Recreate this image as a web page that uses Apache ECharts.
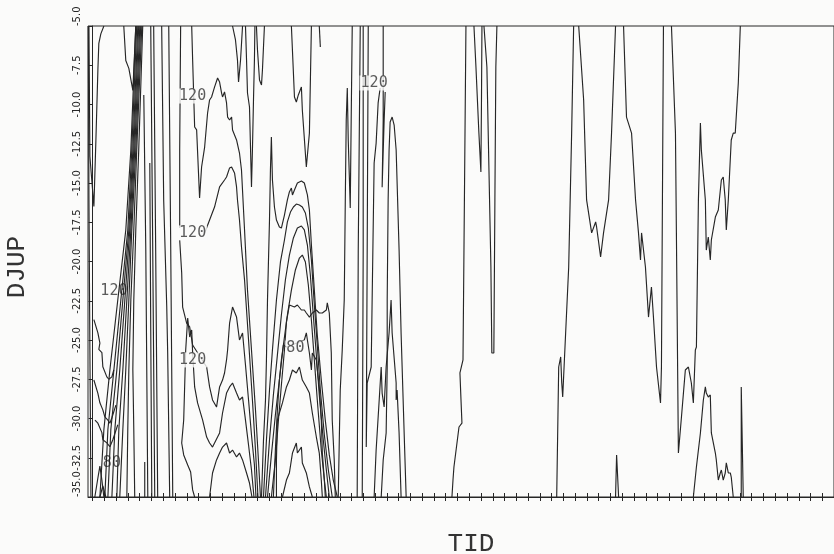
<!DOCTYPE html>
<html><head><meta charset="utf-8">
<script src="https://cdn.jsdelivr.net/npm/echarts@6/dist/echarts.min.js"></script>
<style>html,body{margin:0;padding:0;background:#fbfbfa}#c{width:834px;height:554px}</style>
</head><body><div id="c"></div>
<script>
// ---- axis ranges (x in tick units of TID, y = DJUP) ----
const xMin = -0.39, xMax = 62.99;
const yMin = -35, yMax = -5, yStep = 2.5;
const xTicks = []; for (let k = 0; k <= 62; k++) xTicks.push(k);

// ---- contour polylines [TID, DJUP] ----
const A1 = [[-0.36,-5],[-0.31,-16.1],[-0.23,-25.6],[-0.14,-35]];
const A2 = [[-0.31,-5],[-0.23,-13.3],[0.11,-16.5],[0.28,-12.3],[0.45,-7.8],[0.53,-6.1],[0.7,-5.5],[0.96,-5]];
const A3 = [[2.65,-5],[2.82,-7.2],[3.08,-7.7],[3.42,-9.1],[3.58,-6.5],[3.67,-5]];
const F1 = [[3.67,-5],[3.25,-12.9],[2.82,-18],[2.14,-22.45],[1.47,-26.9],[0.96,-30.7],[0.62,-35]];
const F2 = [[3.75,-5],[3.33,-12.9],[2.99,-18],[2.40,-22.45],[1.81,-26.9],[1.30,-30.7],[1.04,-35]];
const F3 = [[3.84,-5],[3.42,-12.9],[3.08,-18],[2.57,-22.45],[2.06,-26.9],[1.55,-30.7],[1.30,-35]];
const F4 = [[3.92,-5],[3.50,-12.9],[3.16,-18],[2.74,-22.45],[2.31,-26.9],[1.89,-30.7],[1.64,-35]];
const F5 = [[4.01,-5],[3.58,-12.9],[3.25,-18],[2.91,-22.45],[2.57,-26.9],[2.23,-30.7],[2.06,-35]];
const F6 = [[4.09,-5],[3.67,-12.9],[3.33,-18],[3.08,-22.45],[2.82,-26.9],[2.57,-30.7],[2.31,-35]];
const F7 = [[4.18,-5],[3.75,-12.9],[3.50,-18],[3.25,-22.45],[3.08,-26.9],[2.99,-30.7],[2.91,-35]];
const F8 = [[4.26,-5],[3.92,-12.9],[3.67,-18],[3.50,-22.45],[3.42,-26.9],[3.50,-30.7],[3.58,-35]];
const U1 = [[0.11,-23.7],[0.45,-24.55],[0.62,-25.2],[0.53,-25.6],[0.79,-25.8],[0.87,-26.7],[1.21,-27.35],[1.38,-27.5],[1.64,-27.35],[1.8,-26.9]];
const U2 = [[0.11,-27.55],[0.45,-28.4],[0.62,-29.0],[0.87,-29.45],[1.04,-29.9],[1.3,-30.1],[1.47,-30.3],[1.64,-29.95],[1.98,-29.15]];
const U3 = [[0.2,-30.1],[0.45,-30.3],[0.79,-30.9],[0.87,-31.35],[1.21,-31.55],[1.47,-31.8],[1.72,-31.35],[2.14,-30.4]];
const BV1 = [[0.19,-35],[0.45,-33.79],[0.62,-33.03],[0.79,-33.92],[0.96,-35]];
const BV2 = [[0.62,-35],[0.87,-34.3],[1.13,-35]];
const Va = [[4.35,-9.39],[4.52,-19.27],[4.69,-35]];
const Vb = [[4.43,-32.77],[4.43,-35]];
const Vc = [[4.86,-13.73],[4.94,-24.36],[5.03,-35]];
const V1 = [[4.94,-5],[5.11,-19.27],[5.28,-35]];
const V2 = [[5.19,-5],[5.36,-19.27],[5.53,-35]];
const V4 = [[5.87,-5],[6.04,-16.08],[6.3,-22.9],[6.38,-25.83],[6.55,-35]];
const V5 = [[6.47,-5],[6.64,-19.27],[6.81,-35]];
const V6 = [[7.48,-5],[7.4,-12.9],[7.4,-17.87]];
const C120a = [[8.42,-5],[8.5,-7.17],[8.67,-11.43],[8.84,-11.62],[9.09,-15.96],[9.26,-13.98],[9.52,-12.71],[9.77,-10.54],[9.94,-9.71],[10.11,-9.52],[10.36,-8.89],[10.62,-8.31],[10.79,-8.57],[10.96,-9.27],[11.04,-9.52],[11.21,-9.2],[11.38,-9.9],[11.47,-10.8],[11.64,-10.99],[11.81,-10.8],[11.89,-11.62],[12.23,-12.26],[12.48,-13.09],[12.65,-14.17],[12.91,-17.99],[13.16,-21.82],[13.5,-25.64],[13.84,-29.46],[14.09,-32.64],[14.26,-35]];
const C120b = [[9.52,-18.18],[9.94,-17.36],[10.36,-16.53],[10.79,-15.25],[11.21,-14.81],[11.38,-14.62],[11.64,-14.04],[11.81,-13.98],[12.06,-14.36],[12.23,-15.25],[12.31,-16.08],[12.48,-17.36],[12.65,-19.08],[12.91,-21.18],[13.25,-25],[13.58,-28.82],[13.84,-32.01],[14.05,-35]];
const C120c = [[7.4,-18.63],[7.57,-20.73],[7.65,-22.9],[7.99,-23.92],[8.25,-24.17],[8.5,-25.32],[9.69,-26.72],[9.94,-27.99],[10.19,-28.82],[10.53,-29.27],[10.79,-27.99],[11.04,-27.55],[11.21,-27.1],[11.38,-26.27],[11.47,-25.64],[11.64,-23.92],[11.89,-22.9],[12.23,-23.54],[12.48,-25],[12.74,-24.55],[12.99,-26.59],[13.25,-28.82],[13.5,-31.05],[13.75,-32.96],[13.88,-35]];
const C4 = [[8.67,-35],[8.5,-34.55],[8.33,-33.41],[8.08,-32.96],[7.74,-32.32],[7.57,-31.56],[7.74,-30.1],[7.91,-25.64],[8.08,-23.6],[8.25,-24.81],[8.42,-24.36],[8.5,-25.83],[8.67,-27.99],[8.92,-29.01],[9.35,-30.1],[9.69,-31.18],[9.94,-31.56],[10.19,-31.82],[10.79,-30.92],[11.04,-29.65],[11.38,-28.38],[11.64,-27.99],[11.89,-27.74],[12.23,-28.38],[12.48,-28.82],[12.74,-28.63],[12.99,-30.1],[13.25,-31.69],[13.5,-33.28],[13.71,-35]];
const C5 = [[9.94,-35],[10.19,-33.47],[10.53,-32.64],[10.79,-32.2],[11.04,-31.82],[11.38,-31.56],[11.64,-32.2],[11.89,-32.01],[12.23,-32.45],[12.48,-32.2],[12.74,-32.64],[13.08,-33.47],[13.33,-34.11],[13.54,-35]];
const Ha = [[11.89,-5],[12.14,-5.89],[12.31,-7.17],[12.4,-8.57],[12.57,-7.17],[12.74,-5]];
const Hb = [[12.99,-5],[13.08,-7.17],[13.16,-9.27],[13.33,-10.16],[13.5,-15.25],[13.58,-12.9],[13.67,-9.71],[13.75,-7.17],[13.79,-5]];
const Hc = [[13.92,-5],[14.01,-6.53],[14.18,-8.44],[14.35,-8.76],[14.43,-7.8],[14.6,-5]];
const Hd = [[16.89,-5],[17.15,-9.52],[17.31,-9.84],[17.48,-9.39],[17.74,-8.89],[17.82,-10.35],[18.16,-13.98],[18.25,-14.04],[18.42,-11.82],[18.59,-5]];
const Sp1 = [[19.26,-5],[19.35,-6.34]];
const H1 = [[14.35,-35],[14.52,-31.37],[14.69,-28.82],[14.77,-26.27],[14.86,-22.45],[15.03,-17.36],[15.11,-14.17],[15.19,-12.07],[15.28,-14.81],[15.45,-16.53],[15.62,-17.36],[15.87,-17.8],[16.04,-17.87],[16.3,-17.04],[16.55,-16.08],[16.72,-15.57],[16.89,-15.32],[16.98,-15.76],[17.15,-15.45],[17.4,-15.0],[17.74,-14.87],[17.99,-15.0],[18.25,-15.76],[18.42,-16.72],[18.59,-18.95],[18.84,-21.82],[19.09,-24.68],[19.43,-27.55],[19.77,-30.1],[20.11,-32.32],[20.45,-33.92],[20.79,-35]];
const H2 = [[14.52,-35],[14.77,-31.37],[15.03,-28.18],[15.28,-25.64],[15.62,-22.45],[15.96,-20.03],[16.3,-18.63],[16.55,-17.48],[16.81,-16.85],[17.06,-16.53],[17.31,-16.34],[17.57,-16.4],[17.82,-16.53],[18.08,-16.91],[18.33,-17.87],[18.59,-19.9],[18.84,-22.77],[19.09,-25.32],[19.35,-28.18],[19.69,-31.05],[20.03,-33.28],[20.36,-35]];
const H3 = [[14.69,-35],[15.03,-31.37],[15.36,-28.5],[15.7,-25.96],[16.04,-23.41],[16.38,-21.18],[16.72,-19.59],[17.06,-18.5],[17.4,-17.87],[17.74,-17.74],[17.99,-17.99],[18.25,-18.95],[18.5,-20.86],[18.75,-23.41],[19.01,-25.96],[19.26,-28.5],[19.6,-31.37],[19.86,-33.28],[20.11,-35]];
const H4 = [[14.86,-35],[15.19,-32.32],[15.53,-29.78],[15.87,-27.55],[16.21,-25.32],[16.55,-23.41],[16.89,-21.82],[17.23,-20.54],[17.57,-19.78],[17.82,-19.59],[18.08,-20.03],[18.33,-21.5],[18.59,-23.73],[18.84,-26.27],[19.09,-28.82],[19.43,-32.01],[19.69,-33.92],[19.86,-35]];
const W0 = [[15.19,-35],[15.53,-32.64],[15.79,-30.1],[16.04,-27.87],[16.3,-25.64],[16.47,-23.85],[16.72,-22.77],[17.15,-22.9],[17.4,-22.77],[17.74,-23.09],[17.99,-23.09],[18.16,-23.28],[18.42,-23.54],[18.67,-23.28],[19.01,-23.09],[19.26,-23.28],[19.52,-23.28],[19.86,-23.09],[19.94,-22.64],[20.11,-23.28],[20.28,-25.83],[20.36,-30.1],[20.53,-32.64],[20.62,-35]];
const W1 = [[15.36,-35],[15.53,-32.01],[15.7,-29.46],[15.87,-27.55],[16.04,-26.27],[16.21,-25.32],[16.47,-25.45],[17.99,-25],[18.16,-24.55],[18.25,-25],[18.42,-25.83],[18.59,-26.91],[18.67,-25.83],[19.01,-26.27],[19.09,-26.91],[19.26,-27.99],[19.43,-30.1],[19.52,-32.2],[19.69,-33.92],[19.77,-35]];
const W2 = [[15.62,-35],[15.62,-32.64],[15.7,-30.1],[15.87,-29.65],[16.13,-29.01],[16.47,-27.99],[16.72,-27.55],[16.98,-26.91],[17.31,-27.1],[17.57,-26.72],[17.82,-27.55],[18.16,-27.99],[18.42,-28.38],[18.67,-29.65],[19.01,-31.18],[19.26,-32.2],[19.43,-33.92],[19.52,-35]];
const W3 = [[16.13,-35],[16.47,-33.92],[16.72,-33.47],[16.98,-32.2],[17.31,-31.56],[17.4,-32.2],[17.74,-31.82],[17.82,-32.83],[18.16,-33.47],[18.42,-34.36],[18.67,-35]];
const S1 = [[20.87,-35],[20.96,-31.37],[21.04,-28.18],[21.21,-25.64],[21.38,-22.45],[21.47,-16.08],[21.55,-10.99],[21.64,-8.95],[21.72,-12.26],[21.81,-14.49],[21.89,-16.59],[21.97,-10.99],[22.06,-5]];
const Vr1 = [[22.74,-5],[22.57,-19.27],[22.48,-35]];
const Vr2 = [[22.99,-5],[22.99,-19.27],[22.91,-35]];
const Vx = [[23.42,-5],[23.33,-19.27],[23.25,-31.82],[23.33,-27.74],[23.67,-26.72],[23.75,-22.45],[23.92,-13.73],[24.09,-12.46],[24.26,-9.9],[24.43,-8.95]];
const Lr = [[24.69,-5],[24.69,-11.0],[24.6,-15.27],[24.77,-11.0],[24.86,-9.2]];
const HR = [[24.52,-35],[24.69,-32.64],[24.94,-30.92],[25.03,-26.72],[25.03,-22.45],[25.11,-16.08],[25.19,-12.9],[25.28,-11.11],[25.45,-10.8],[25.62,-11.31],[25.79,-12.9],[26.04,-19.27],[26.21,-24.55],[26.47,-30.92],[26.64,-35]];
const HRin = [[23.92,-35],[24.09,-32.01],[24.35,-28.82],[24.52,-26.72],[24.6,-28.38],[24.77,-29.27],[24.94,-26.72],[25.19,-24.55],[25.36,-22.45],[25.45,-24.55],[25.79,-27.74],[25.79,-28.82],[25.87,-28.18],[26.04,-30.92],[26.21,-35]];
const R1 = [[31.72,-5],[31.47,-26.27],[31.21,-27.1],[31.3,-28.82],[31.38,-30.29],[31.13,-30.54],[30.7,-33.09],[30.62,-33.92],[30.53,-35]];
const R2 = [[32.4,-5],[32.57,-7.61],[32.82,-11.82],[32.99,-14.3],[33.04,-9.71],[33.08,-5]];
const R3 = [[33.25,-5],[33.5,-7.61],[33.67,-13.98],[33.84,-20.35],[33.92,-25.83],[34.09,-25.83],[34.18,-16.08],[34.26,-7.61],[34.35,-5]];
const R4 = [[40.87,-5],[40.7,-11.82],[40.45,-20.35],[40.19,-24.55],[39.94,-28.63],[39.86,-27.74],[39.77,-26.08],[39.6,-26.72],[39.43,-35]];
const R5 = [[41.3,-5],[41.72,-9.71],[41.97,-16.08],[42.4,-18.18],[42.74,-17.48],[42.82,-17.8],[43.16,-19.71],[43.41,-18.18],[43.84,-16.08],[44.09,-11.82],[44.43,-5]];
const R6 = [[45.11,-5],[45.36,-10.8],[45.79,-11.82],[46.13,-16.08],[46.38,-18.18],[46.55,-19.9],[46.64,-18.18],[46.97,-20.35],[47.23,-23.54],[47.48,-21.62],[47.65,-23.54],[47.91,-26.72],[48.25,-29.01],[48.33,-26.72],[48.5,-5]];
const R7 = [[49.18,-5],[49.52,-11.82],[49.6,-18.18],[49.77,-32.2],[50.03,-29.9],[50.36,-26.91],[50.62,-26.72],[50.87,-27.74],[51.04,-29.01],[51.21,-25.64],[51.3,-25.45],[51.47,-16.08],[51.64,-11.18],[51.72,-12.9],[52.06,-16.08],[52.14,-19.27],[52.31,-18.44],[52.48,-19.9],[52.57,-18.63],[52.91,-17.17],[53.16,-16.72],[53.42,-14.81],[53.58,-14.62],[53.75,-16.08],[53.84,-17.99],[54.01,-16.08],[54.26,-12.26],[54.43,-11.82],[54.6,-11.82],[54.86,-8.63],[55.03,-5]];
const R8 = [[51.04,-35],[51.3,-33.09],[51.64,-30.92],[51.89,-28.82],[52.06,-27.99],[52.14,-28.38],[52.31,-28.63],[52.48,-28.5],[52.57,-30.92],[52.91,-32.2],[52.99,-32.64],[53.16,-33.92],[53.33,-33.47],[53.42,-33.28],[53.58,-33.92],[53.75,-33.47],[53.84,-32.83],[54.01,-33.47],[54.18,-33.47],[54.26,-33.73],[54.43,-35]];
const R9 = [[55.11,-35],[55.11,-27.99],[55.28,-35]];
const R10 = [[44.43,-35],[44.52,-32.32],[44.69,-35]];

const contours = [A1,A2,A3,F1,F2,F3,F4,F5,F6,F7,F8,U1,U2,U3,BV1,BV2,Va,Vb,Vc,V1,V2,V4,V5,V6,
  C120a,C120b,C120c,C4,C5,Ha,Hb,Hc,Hd,Sp1,H1,H2,H3,H4,W0,W1,W2,W3,S1,Vr1,Vr2,Vx,Lr,HR,HRin,
  R1,R2,R3,R4,R5,R6,R7,R8,R9,R10];

// ---- contour level labels ----
const labelText = ['120','120','120','80','120'];
const labelX    = [8.5, 8.5, 8.5, 17.23, 23.92];
const labelY    = [-9.46, -18.18, -26.27, -25.51, -8.63];
const underText = ['120','80'];
const underX    = [1.81, 1.64];
const underY    = [-21.88, -32.83];

const ink = '#262626';
const bg = '#fbfbfa';
const series = contours.map(c => ({
  type: 'line', data: c, symbol: 'none', smooth: false, silent: true,
  lineStyle: { color: ink, width: 1.15 }, z: 3, animation: false
}));
function labelSeries(tx, xs, ys, withBg, z) {
  return {
    type: 'scatter', symbolSize: 0, silent: true, animation: false, z: z,
    data: tx.map((t, i) => ({ value: [xs[i], ys[i]], name: t })),
    label: {
      show: true, position: 'inside', formatter: p => p.name,
      fontFamily: 'DejaVu Sans Mono', fontSize: 15, color: '#333',
      backgroundColor: withBg ? bg : 'transparent', padding: [0, 1]
    }
  };
}
series.push(labelSeries(labelText, labelX, labelY, true, 5));
series.push(labelSeries(underText, underX, underY, false, 1));

const chart = echarts.init(document.getElementById('c'), null, { renderer: 'canvas' });
const baseX = {
  type: 'value', min: xMin, max: xMax,
  axisLabel: { show: false }, splitLine: { show: false }
};
chart.setOption({
  backgroundColor: bg,
  animation: false,
  grid: { left: 88, right: -2, top: 26, bottom: 57, show: true, borderColor: ink, borderWidth: 1, backgroundColor: 'transparent' },
  xAxis: [
    Object.assign({}, baseX, {
      position: 'bottom',
      axisLine: { show: true, lineStyle: { color: ink, width: 1 } },
      axisTick: { show: true, customValues: xTicks, length: 4, inside: false, lineStyle: { color: ink, width: 1 } }
    }),
    Object.assign({}, baseX, {
      position: 'top', offset: -471,
      axisLine: { show: false },
      axisTick: { show: true, customValues: xTicks, length: 4, inside: false, lineStyle: { color: ink, width: 1 } }
    })
  ],
  yAxis: {
    type: 'value', min: yMin, max: yMax, interval: yStep,
    axisLine: { show: true, lineStyle: { color: ink, width: 1 } },
    axisTick: { show: true, length: 4, lineStyle: { color: ink, width: 1 } },
    axisLabel: { rotate: 90, margin: 6, fontFamily: 'DejaVu Sans', fontSize: 10, color: ink,
                 alignMinLabel: 'left', alignMaxLabel: 'left', formatter: v => v.toFixed(1) },
    splitLine: { show: false }
  },
  graphic: [
    { type: 'text', x: 17, y: 267, rotation: Math.PI / 2,
      style: { text: 'DJUP', fontFamily: 'Liberation Mono', fontSize: 26, fill: '#333', align: 'center', verticalAlign: 'middle' } },
    { type: 'text', x: 471, y: 544,
      style: { text: 'TID', fontFamily: 'Liberation Mono', fontSize: 26, fill: '#333', align: 'center', verticalAlign: 'middle' } }
  ],
  series: series
});
</script></body></html>
